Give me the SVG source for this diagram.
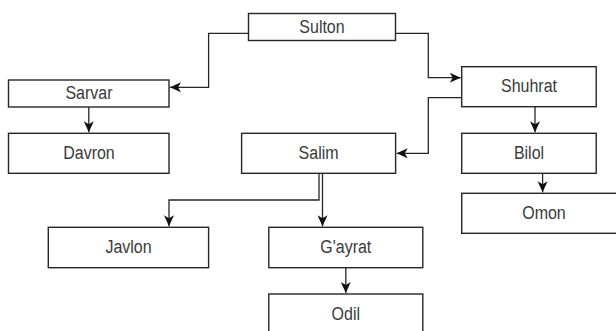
<svg xmlns="http://www.w3.org/2000/svg" width="616" height="331" viewBox="0 0 616 331">
<defs>
<style>
.box{fill:#fff;stroke:#262626;stroke-width:1.4}
.lbl{font-family:"Liberation Sans",Arial,sans-serif;font-size:16px;fill:#3a3a3a;text-anchor:middle}
.edge{fill:none;stroke:#262626;stroke-width:1.3;marker-end:url(#arr)}
</style>
<marker id="arr" markerUnits="userSpaceOnUse" markerWidth="12" markerHeight="11" refX="11" refY="5" orient="auto">
<path d="M0,0 L11,5 L0,10 L3,5 Z" fill="#111"/>
</marker>
</defs>
<rect width="616" height="331" fill="#fff"/>
<g id="connectors">
<path class="edge" d="M248.5,33.3 H208.6 V87.3 H170"/>
<path class="edge" d="M395.7,33.3 H428.3 V77.7 H460.7"/>
<path class="edge" d="M461.7,97.7 H428.3 V153.3 H396.7"/>
<path class="edge" d="M88.8,107 V132.3"/>
<path class="edge" d="M535,106.7 V132.3"/>
<path class="edge" d="M542.6,173.3 V192.3"/>
<path class="edge" d="M319,173.3 V200 H169 V226.3"/>
<path class="edge" d="M322.5,173.3 V226.3"/>
<path class="edge" d="M345.8,267.7 V293"/>
</g>
<g id="sulton"><rect class="box" x="248.5" y="13.5" width="147" height="27"/><text class="lbl" x="322" y="33" transform="translate(0,-3.3) scale(1,1.1)">Sulton</text></g>
<g id="sarvar"><rect class="box" x="8.5" y="80" width="160.5" height="27"/><text class="lbl" x="89" y="99.3" transform="translate(0,-9.9) scale(1,1.1)">Sarvar</text></g>
<g id="shuhrat"><rect class="box" x="461.7" y="66.7" width="134.5" height="40"/><text class="lbl" x="529" y="92.5" transform="translate(0,-9.25) scale(1,1.1)">Shuhrat</text></g>
<g id="davron"><rect class="box" x="8.5" y="133.3" width="160.5" height="40"/><text class="lbl" x="89" y="159.2" transform="translate(0,-15.9) scale(1,1.1)">Davron</text></g>
<g id="salim"><rect class="box" x="241.6" y="133.3" width="154" height="40"/><text class="lbl" x="318.6" y="159.2" transform="translate(0,-15.9) scale(1,1.1)">Salim</text></g>
<g id="bilol"><rect class="box" x="461.7" y="133.3" width="134.5" height="40"/><text class="lbl" x="529" y="159.2" transform="translate(0,-15.9) scale(1,1.1)">Bilol</text></g>
<g id="omon"><rect class="box" x="461.7" y="193.3" width="165" height="40"/><text class="lbl" x="544" y="219.2" transform="translate(0,-21.9) scale(1,1.1)">Omon</text></g>
<g id="javlon"><rect class="box" x="48.3" y="227.3" width="160.3" height="40.4"/><text class="lbl" x="128.5" y="253.3" transform="translate(0,-25.3) scale(1,1.1)">Javlon</text></g>
<g id="gayrat"><rect class="box" x="268.8" y="227.3" width="154" height="40.4"/><text class="lbl" x="345.8" y="253.3" transform="translate(0,-25.3) scale(1,1.1)">G'ayrat</text></g>
<g id="odil"><rect class="box" x="268.8" y="294" width="154" height="40"/><text class="lbl" x="345.8" y="320" transform="translate(0,-32) scale(1,1.1)">Odil</text></g>
</svg>
